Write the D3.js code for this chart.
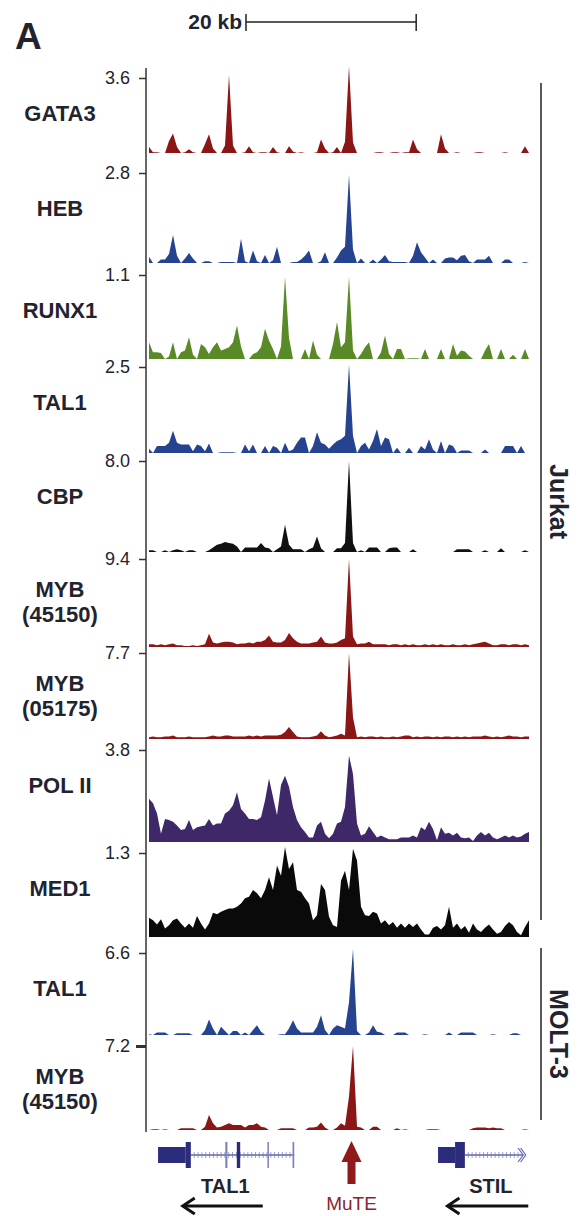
<!DOCTYPE html>
<html>
<head>
<meta charset="utf-8">
<script src="https://cdn.jsdelivr.net/npm/d3@7"></script>
<style>
  body { margin: 0; background: #fff; }
  text { font-family: "Liberation Sans", Arial, Helvetica, sans-serif; }
</style>
</head>
<body>
<script>
  //Defined values
  var w = 579; //svg width
  var h = 1216; //svg height
  var binKb = 0.47; //kb per bin
  var nBins = 96;

  //DATA - signal per bin, in % of the track's data range (tick value)
  var gata3 = [8,1,1,0,0,16,26,8, 0,1,5,1,0,0,12,25, 6,0,0,10,104,10,0,0, 1,9,1,0,1,1,0,8,
      1,0,0,9,2,0,1,0, 0,0,1,18,6,0,1,8, 0,15,116,14,0,0,0,0, 0,1,1,0,0,1,1,0,
      1,1,18,5,0,0,0,0, 0,25,6,0,0,1,0,0, 0,0,1,1,0,0,0,0, 0,1,0,0,0,0,9,0];
  var heb = [7,0,0,4,4,10,31,8, 0,5,11,5,0,0,2,2, 0,0,1,1,1,1,0,27, 2,0,14,2,0,9,0,3,
      18,0,0,0,1,1,4,8, 14,0,0,2,12,0,0,6, 14,18,98,15,0,5,0,0, 4,0,4,9,2,1,1,1,
      1,0,8,23,12,6,0,4, 0,0,5,6,6,3,8,9, 2,0,4,4,4,8,0,0, 0,4,4,0,0,0,1,0];
  var runx1 = [20,8,8,7,0,3,20,0, 8,10,26,5,0,18,14,6, 14,20,10,12,14,20,40,15, 0,0,6,8,14,36,22,12,
      0,15,98,25,0,0,0,12, 0,22,5,0,0,0,18,44, 14,20,98,10,0,6,14,20, 0,0,8,28,6,0,12,12,
      0,1,1,1,0,12,0,0, 0,12,0,0,18,4,10,9, 4,0,0,0,10,18,0,0, 12,0,0,5,0,0,12,0];
  var tal1Jurkat = [5,0,8,8,8,12,26,12, 10,10,10,2,10,8,2,11, 0,0,1,1,1,1,0,0, 10,2,10,0,0,8,0,8,
      6,0,12,2,4,12,18,18, 0,8,24,12,10,5,10,14, 16,20,103,20,0,8,12,4, 14,28,8,18,16,0,6,0,
      0,6,0,0,8,4,16,4, 0,14,0,10,8,0,3,3, 3,0,0,0,4,0,0,0, 0,8,8,8,0,8,0,0];
  var cbp = [2,2,0,0,2,0,2,3, 2,0,2,2,0,0,0,2, 5,8,9,11,10,9,6,0, 5,5,5,5,10,5,4,0,
      3,6,30,8,3,3,3,0, 3,5,17,4,0,0,0,4, 4,10,100,10,0,2,0,5, 5,5,0,0,4,5,5,0,
      0,0,3,0,0,0,0,0, 0,0,0,0,0,3,3,3, 3,0,0,0,2,0,0,0, 4,0,0,0,0,0,2,0];
  var myb45150 = [3,3,2,3,2,3,4,2, 2,1,1,2,1,2,3,15, 5,4,5,6,6,5,3,4, 4,5,4,6,6,8,13,6,
      5,5,8,16,10,6,4,4, 4,5,6,12,5,4,4,5, 8,10,100,12,3,4,4,6, 3,3,3,3,2,3,3,2,
      3,2,3,2,2,3,2,3, 2,3,2,2,3,2,2,3, 2,3,4,5,6,4,2,2, 3,3,2,3,3,2,3,2];
  var myb05175 = [2,3,2,2,3,3,4,2, 2,2,3,2,2,2,2,3, 4,3,3,4,4,3,3,3, 3,4,3,4,3,4,4,4,
      4,5,8,14,8,3,2,2, 2,3,4,9,4,2,3,4, 6,4,100,25,2,3,2,3, 3,2,3,2,2,3,2,3,
      4,4,2,3,2,3,3,2, 3,2,3,3,2,3,2,3, 2,3,3,3,4,3,2,3, 2,3,4,3,3,2,3,3];
  var pol2 = [47,42,31,9,25,24,22,18, 13,14,24,13,16,17,18,25, 18,20,20,31,34,40,54,36, 31,25,25,24,27,45,69,49,
      29,62,72,60,38,24,16,11, 5,5,18,22,9,4,9,20, 22,38,94,74,20,7,9,17, 11,5,7,5,3,3,3,5,
      5,5,7,5,16,13,22,14, 2,16,9,10,7,10,5,4, 5,1,7,11,7,10,5,3, 5,7,5,7,5,6,9,11];
  var med1 = [23,20,15,21,10,14,20,22, 16,11,16,11,25,16,9,16, 29,27,30,32,34,34,36,40, 46,48,56,52,46,56,71,56,
      85,73,107,81,89,56,54,46, 40,20,26,63,56,24,14,12, 67,79,56,105,91,36,26,25, 30,28,16,20,14,18,11,16,
      11,16,12,16,9,3,3,11, 13,9,14,36,11,16,9,13, 5,16,9,6,11,15,9,4, 6,13,18,14,6,2,12,20];
  var tal1Molt = [1,0,3,3,3,0,0,2, 2,2,2,0,0,0,6,19, 8,0,10,5,0,5,5,0, 3,0,6,12,4,0,0,0,
      0,1,1,8,18,8,3,3, 3,3,10,24,6,0,8,12, 10,8,40,105,5,0,0,3, 12,4,3,0,0,0,3,3,
      3,0,0,0,0,1,0,0, 0,0,0,3,0,0,3,3, 3,3,0,0,0,0,1,0, 0,0,0,2,2,0,0,0];
  var mybMolt = [0,1,1,0,1,0,0,0, 2,2,2,2,0,0,4,18, 8,3,4,6,8,6,6,6, 3,6,6,8,4,3,0,0,
      0,2,2,2,2,0,0,0, 3,3,4,9,3,0,0,3, 8,5,40,100,4,3,0,0, 4,4,0,0,0,0,2,0,
      1,0,0,0,0,0,1,1, 1,0,0,0,0,0,0,0, 0,2,3,3,3,2,3,2, 2,0,0,0,0,0,1,0];

  //track labels and tick values
  var trackLabels = [["GATA3"], ["HEB"], ["RUNX1"], ["TAL1"], ["CBP"], ["MYB", "(45150)"],
      ["MYB", "(05175)"], ["POL II"], ["MED1"], ["TAL1"], ["MYB", "(45150)"]];
  var trackMax = [3.6, 2.8, 1.1, 2.5, 8.0, 9.4, 7.7, 3.8, 1.3, 6.6, 7.2];
  var trackSignal = [gata3, heb, runx1, tal1Jurkat, cbp, myb45150, myb05175, pol2, med1, tal1Molt, mybMolt];

  //gene annotation (kb from left edge of window)
  var tal1Exons = [[1.3, 4.55, "utr"], [4.55, 5.15, "cds"], [9.2, 9.45, "faint"], [10.55, 10.95, "cds"],
      [14.15, 14.3, "faint"], [17.1, 17.3, "end"]];
  var tal1Intron = [5.15, 17.3];
  var stilExons = [[34.2, 36.2, "utr"], [36.2, 37.35, "cds"]];
  var stilIntron = [37.35, 44.2];
  var muteKb = 24.03;
  var scaleBarKb = [11.63, 31.63];

  //LAYOUT
  var trackTop = [78, 173, 275, 367, 461, 559, 653, 750, 853, 953, 1046];
  var trackBase = [153, 263, 359, 453, 552, 647, 739, 842, 937, 1035, 1130];
  var trackColors = ["#8a1616", "#25438f", "#5a8a28", "#25438f", "#111111", "#8a1616",
      "#8a1616", "#3e2868", "#0a0a0a", "#25438f", "#8a1616"];
  var axisX = 146;
  var textColor = "#23232e";

  var svg = d3.select("body")
      .append("svg")
      .attr("width", w)
      .attr("height", h); //generate SVG element

  //SCALES
  var x = d3.scaleLinear()
      .domain([0, nBins])
      .range([147, 531]);

  var kb = d3.scaleLinear()
      .domain([0, nBins * binKb])
      .range([147, 531]);

  //PANEL LETTER + SCALE BAR
  svg.append("text")
      .attr("x", 15)
      .attr("y", 49)
      .attr("font-size", 37)
      .attr("font-weight", "bold")
      .attr("fill", textColor)
      .text("A");

  svg.append("text")
      .attr("x", kb(scaleBarKb[0]) - 4)
      .attr("y", 29)
      .attr("text-anchor", "end")
      .attr("font-size", 21)
      .attr("font-weight", "bold")
      .attr("fill", textColor)
      .text("20 kb");

  svg.append("line")
      .attr("x1", kb(scaleBarKb[0])).attr("x2", kb(scaleBarKb[1]))
      .attr("y1", 22).attr("y2", 22)
      .attr("stroke", "#222").attr("stroke-width", 1.5);

  svg.selectAll(".barEnd")
      .data(scaleBarKb)
      .enter()
      .append("line")
      .attr("class", "barEnd")
      .attr("x1", function(d) { return kb(d); })
      .attr("x2", function(d) { return kb(d); })
      .attr("y1", 14).attr("y2", 31)
      .attr("stroke", "#222").attr("stroke-width", 1.5);

  //TRACKS
  trackSignal.forEach(function(values, i) {
      var y = d3.scaleLinear()
          .domain([0, trackMax[i]])
          .range([trackBase[i], trackTop[i]]);

      var area = d3.area()
          .x(function(d, j) { return x(j + 0.5); })
          .y0(trackBase[i])
          .y1(function(d) { return y(d / 100 * trackMax[i]); });

      svg.append("path")
          .datum(values)
          .attr("d", area)
          .attr("fill", trackColors[i])
          .attr("stroke", "none");

      //tick at track maximum
      var g = svg.append("g")
          .attr("transform", "translate(" + axisX + ",0)")
          .call(d3.axisLeft(y)
              .tickValues([trackMax[i]])
              .tickSize(i === 10 ? 10 : 7)
              .tickPadding(i === 10 ? 6 : 9)
              .tickFormat(d3.format(".1f")));
      g.select(".domain").remove();
      g.selectAll("line")
          .attr("stroke", "#333")
          .attr("stroke-width", i === 10 ? 3 : 1.5);
      g.selectAll("text")
          .attr("font-size", 18)
          .attr("font-family", "Liberation Sans, Arial, sans-serif")
          .attr("fill", textColor);

      //track label
      var lines = trackLabels[i];
      svg.selectAll(".label" + i)
          .data(lines)
          .enter()
          .append("text")
          .attr("class", "label" + i)
          .attr("x", 60)
          .attr("y", function(d, k) {
              if (lines.length === 1) { return trackTop[i] + 43; }
              return trackTop[i] + 38 + k * 25;
          })
          .attr("text-anchor", "middle")
          .attr("font-size", 22)
          .attr("font-weight", "bold")
          .attr("fill", textColor)
          .text(function(d) { return d; });
  });

  //left axis line
  svg.append("line")
      .attr("x1", axisX).attr("x2", axisX)
      .attr("y1", 68).attr("y2", trackBase[10] + 2)
      .attr("stroke", "#333").attr("stroke-width", 1.5);

  //CELL LINE BRACKETS
  var brackets = [{ name: "Jurkat", y1: 83, y2: 920 }, { name: "MOLT-3", y1: 948, y2: 1120 }];
  brackets.forEach(function(b) {
      svg.append("line")
          .attr("x1", 541).attr("x2", 541)
          .attr("y1", b.y1).attr("y2", b.y2)
          .attr("stroke", "#222").attr("stroke-width", 1.5);
      svg.append("text")
          .attr("transform", "translate(550," + ((b.y1 + b.y2) / 2) + ") rotate(90)")
          .attr("text-anchor", "middle")
          .attr("font-size", 25)
          .attr("font-weight", "bold")
          .attr("fill", textColor)
          .text(b.name);
  });

  //GENE MODELS
  var geneY = 1155;
  var geneNavy = "#2b2c7c";
  var intronColor = "#6466ad";

  function drawGene(exons, intron) {
      svg.append("line")
          .attr("x1", kb(intron[0])).attr("x2", kb(intron[1]))
          .attr("y1", geneY).attr("y2", geneY)
          .attr("stroke", intronColor).attr("stroke-width", 1.5);

      //intron direction hatches
      svg.selectAll(null)
          .data(d3.range(intron[0] + 0.4, intron[1] - 0.2, 0.45))
          .enter()
          .append("line")
          .attr("x1", function(d) { return kb(d); })
          .attr("x2", function(d) { return kb(d); })
          .attr("y1", geneY - 3).attr("y2", geneY + 3)
          .attr("stroke", intronColor).attr("stroke-width", 0.6);

      svg.selectAll(null)
          .data(exons)
          .enter()
          .append("rect")
          .attr("x", function(d) { return kb(d[0]); })
          .attr("width", function(d) { return Math.max(1.5, kb(d[1]) - kb(d[0])); })
          .attr("y", function(d) { return d[2] === "utr" ? geneY - 8 : geneY - 13; })
          .attr("height", function(d) { return d[2] === "utr" ? 16 : 26; })
          .attr("fill", function(d) { return d[2] === "faint" || d[2] === "end" ? "#7e7fbd" : geneNavy; });
  }

  drawGene(tal1Exons, tal1Intron);
  drawGene(stilExons, stilIntron);

  //STIL end chevrons
  svg.append("path")
      .attr("d", "M" + kb(stilIntron[1] - 0.6) + "," + (geneY - 7) + " L" + kb(stilIntron[1]) + "," + geneY +
          " L" + kb(stilIntron[1] - 0.6) + "," + (geneY + 7) +
          " M" + kb(stilIntron[1] - 0.3) + "," + (geneY - 7) + " L" + kb(stilIntron[1] + 0.3) + "," + geneY +
          " L" + kb(stilIntron[1] - 0.3) + "," + (geneY + 7))
      .attr("fill", "none")
      .attr("stroke", intronColor)
      .attr("stroke-width", 1.2);

  //MuTE arrow
  var mx = kb(muteKb);
  svg.append("path")
      .attr("d", "M" + (mx - 4) + ",1184 L" + (mx - 4) + ",1162 L" + (mx - 10) + ",1162 L" + mx + ",1141 L" +
          (mx + 10) + ",1162 L" + (mx + 4) + ",1162 L" + (mx + 4) + ",1184 Z")
      .attr("fill", "#901a1a");

  svg.append("text")
      .attr("x", mx)
      .attr("y", 1210)
      .attr("text-anchor", "middle")
      .attr("font-size", 19)
      .attr("fill", "#8a2430")
      .text("MuTE");

  //gene names and direction arrows
  var geneNames = [{ name: "TAL1", kbMid: 9.2, arrow: [4.2, 13.6] }, { name: "STIL", kbMid: 40.4, arrow: [35.3, 44.8] }];
  geneNames.forEach(function(g) {
      svg.append("text")
          .attr("x", kb(g.kbMid))
          .attr("y", 1193)
          .attr("text-anchor", "middle")
          .attr("font-size", 20)
          .attr("font-weight", "bold")
          .attr("fill", textColor)
          .text(g.name);

      var x1 = kb(g.arrow[0]), x2 = kb(g.arrow[1]);
      svg.append("line")
          .attr("x1", x1 + 2).attr("x2", x2)
          .attr("y1", 1206).attr("y2", 1206)
          .attr("stroke", "#111").attr("stroke-width", 3);
      svg.append("path")
          .attr("d", "M" + (x1 + 12) + ",1198 L" + x1 + ",1206 L" + (x1 + 12) + ",1214")
          .attr("fill", "none")
          .attr("stroke", "#111")
          .attr("stroke-width", 3);
  });
</script>
</body>
</html>
